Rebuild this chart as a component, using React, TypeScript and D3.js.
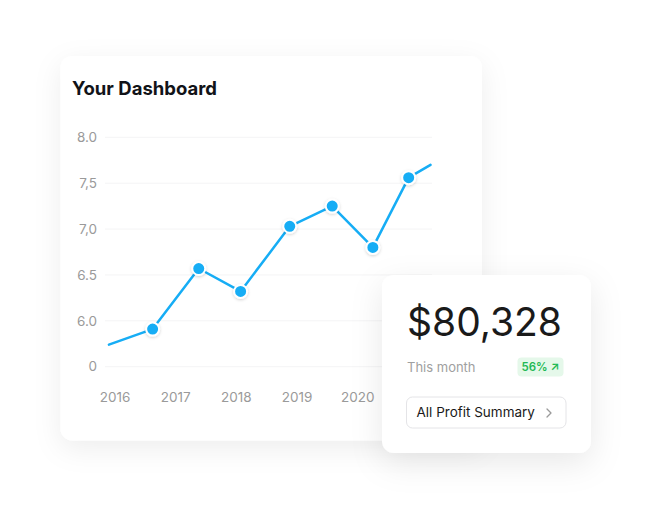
import React from "react";
import * as d3 from "d3";

const years = [2016, 2017, 2018, 2019, 2020];
const yTickValues = [5.5, 6.0, 6.5, 7.0, 7.5, 8.0];
const yTickLabels = ["0", "6.0", "6.5", "7,0", "7,5", "8.0"];
const pointX = [2015.9, 2016.62, 2017.38, 2018.07, 2018.88, 2019.58, 2020.25, 2020.84, 2021.2];
const pointY = [5.74, 5.91, 6.57, 6.32, 7.03, 7.25, 6.8, 7.56, 7.7];
const markerIdx = [1, 2, 3, 4, 5, 6, 7];

const title = "Your Dashboard";
const amount = "$80,328";
const periodLabel = "This month";
const badgeLabel = "56% ↗";
const buttonLabel = "All Profit Summary";

const W = 651;
const H = 518;
const FONT = "Inter, 'Noto Sans', sans-serif";
const BLUE = "#16adf5";

export default function App() {
  const x = d3.scaleLinear().domain([2016, 2020]).range([115, 357.7]);
  const y = d3.scaleLinear().domain([5.5, 8.0]).range([366.7, 137.3]);
  const line = d3
    .line<number>()
    .x((_, i) => x(pointX[i]))
    .y((d) => y(d));

  return (
    <svg
      width={W}
      height={H}
      viewBox={`0 0 ${W} ${H}`}
      style={{ position: "absolute", left: 0, top: 0, background: "#fff" }}
      fontFamily={FONT}
    >
      <defs>
        <filter id="cardShadow" x="-30%" y="-30%" width="160%" height="170%">
          <feDropShadow dx="0" dy="8" stdDeviation="14" floodColor="#000" floodOpacity="0.07" />
        </filter>
        <filter id="cardShadow2" x="-40%" y="-40%" width="180%" height="190%">
          <feDropShadow dx="0" dy="10" stdDeviation="16" floodColor="#000" floodOpacity="0.09" />
        </filter>
        <filter id="dotShadow" x="-100%" y="-100%" width="300%" height="300%">
          <feDropShadow dx="0" dy="1" stdDeviation="1.5" floodColor="#000" floodOpacity="0.18" />
        </filter>
      </defs>

      {/* main card */}
      <rect x={60.5} y={56} width={421.5} height={384.5} rx={12} fill="#fff" filter="url(#cardShadow)" />
      <text x={72} y={95} fontSize={18.5} fontWeight={700} fill="#111318">
        {title}
      </text>

      {/* grid */}
      {yTickValues.map((v, i) => (
        <g key={v}>
          <line x1={105} x2={432} y1={y(v)} y2={y(v)} stroke="#f4f4f5" strokeWidth={1} />
          <text x={97} y={y(v)} dy="0.35em" textAnchor="end" fontSize={13.5} fill="#9a9a9a">
            {yTickLabels[i]}
          </text>
        </g>
      ))}
      {years.map((yr) => (
        <text key={yr} x={x(yr)} y={401.5} textAnchor="middle" fontSize={13.5} fill="#9a9a9a">
          {yr}
        </text>
      ))}

      <path d={line(pointY) || ""} fill="none" stroke={BLUE} strokeWidth={2.5} strokeLinejoin="round" strokeLinecap="round" />
      {markerIdx.map((i) => (
        <circle
          key={i}
          cx={x(pointX[i])}
          cy={y(pointY[i])}
          r={6.5}
          fill={BLUE}
          stroke="#fff"
          strokeWidth={2}
          filter="url(#dotShadow)"
        />
      ))}

      {/* summary card */}
      <rect x={382} y={275} width={209} height={178} rx={12} fill="#fff" filter="url(#cardShadow2)" />
      <text x={407} y={336} fontSize={39} fontWeight={400} fill="#1a1a1a">
        {amount}
      </text>
      <text x={407} y={371.5} fontSize={13} fill="#a0a0a0">
        {periodLabel}
      </text>
      <rect x={517.5} y={357.5} width={46} height={19} rx={4} fill="#e5f8ea" />
      <text x={540.5} y={371} textAnchor="middle" fontSize={11.5} fontWeight={600} fill="#1fb954">
        {badgeLabel}
      </text>
      <rect x={406.5} y={397} width={159.5} height={31} rx={6} fill="#fff" stroke="#e4e4e7" strokeWidth={1} />
      <text x={416.5} y={417} fontSize={13.5} fontWeight={400} fill="#1a1a1a">
        {buttonLabel}
      </text>
      <path d="M547 409 L551 413 L547 417" fill="none" stroke="#9a9a9a" strokeWidth={1.3} strokeLinecap="round" strokeLinejoin="round" />
    </svg>
  );
}
